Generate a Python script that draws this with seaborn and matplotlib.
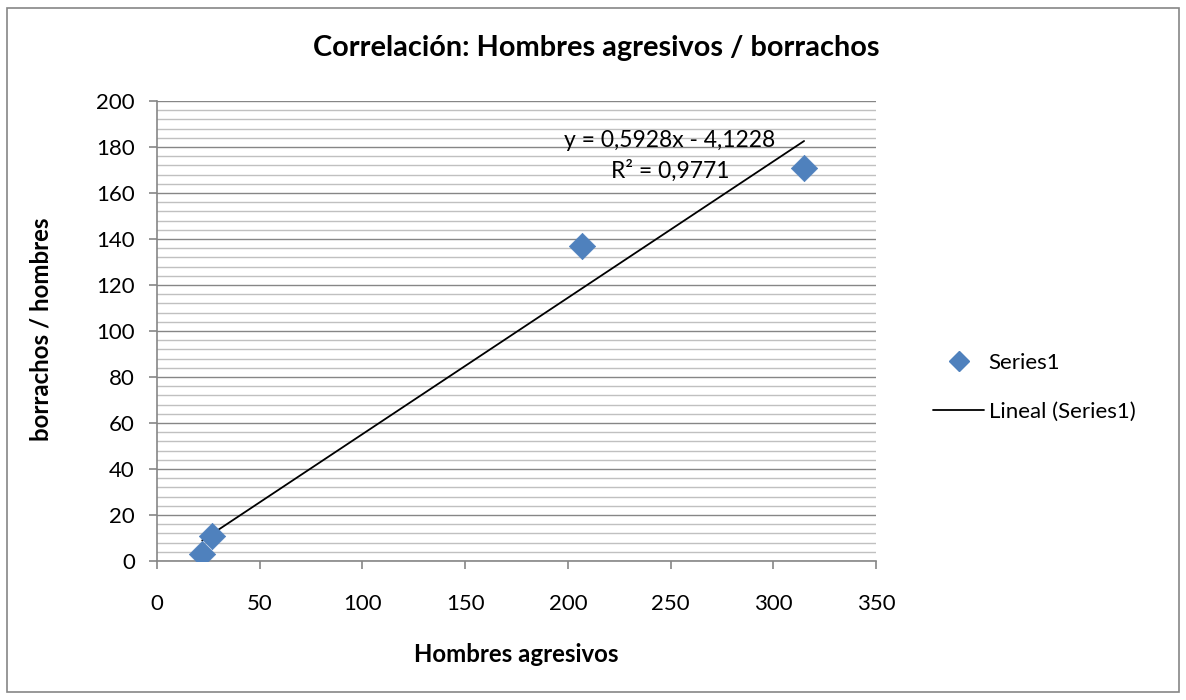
import numpy as np
import pandas as pd
import matplotlib
matplotlib.use("Agg")
import matplotlib.pyplot as plt
import seaborn as sns
from matplotlib.patches import Rectangle
from matplotlib.lines import Line2D
from matplotlib.ticker import MultipleLocator

# Data
hombres_agresivos = [22, 27, 207, 315]
borrachos = [3, 11, 137, 171]
series_name = "Series1"
trend_name = "Lineal (Series1)"
title = "Correlación: Hombres agresivos / borrachos"
xlabel = "Hombres agresivos"
ylabel = "borrachos / hombres"

sns.set_theme(style="white")
plt.rcParams['font.family'] = ['Lato', 'DejaVu Sans']
plt.rcParams['text.color'] = 'black'
plt.rcParams['axes.labelcolor'] = 'black'
plt.rcParams['xtick.labelcolor'] = 'black'
plt.rcParams['ytick.labelcolor'] = 'black'

df = pd.DataFrame({"x": hombres_agresivos, "y": borrachos})
slope, intercept = np.polyfit(df["x"], df["y"], 1)
pred = slope * df["x"] + intercept
r2 = 1 - ((df["y"] - pred) ** 2).sum() / ((df["y"] - df["y"].mean()) ** 2).sum()
xs = np.array([df["x"].min(), df["x"].max()])
trend = pd.DataFrame({"x": xs, "y": slope * xs + intercept})

fig = plt.figure(figsize=(11.86, 7.0), dpi=100)
fig.patches.append(Rectangle((0.006, 0.011), 0.988, 0.978, transform=fig.transFigure,
                             fill=False, edgecolor="#868686", linewidth=1.2))
ax = fig.add_axes([0.1324, 0.1986, 0.6062, 0.6571])

ax.set_xlim(0, 350)
ax.set_ylim(0, 200)
ax.yaxis.set_major_locator(MultipleLocator(20))
ax.yaxis.set_minor_locator(MultipleLocator(4))
ax.xaxis.set_major_locator(MultipleLocator(50))
ax.grid(which="major", axis="y", color="#868686", linewidth=1.0)
ax.grid(which="minor", axis="y", color="#c0c0c0", linewidth=1.0)
ax.grid(which="major", axis="x", visible=False)
ax.set_axisbelow(True)

sns.lineplot(data=trend, x="x", y="y", ax=ax, color="black", linewidth=1.3, zorder=3)
sns.scatterplot(data=df, x="x", y="y", ax=ax, marker="D", s=180, color="#4F81BD",
                edgecolor="#4F81BD", linewidth=0.5, zorder=4)

for side in ["top", "right"]:
    ax.spines[side].set_visible(False)
for side in ["left", "bottom"]:
    ax.spines[side].set_color("#868686")
    ax.spines[side].set_linewidth(1.2)

ax.tick_params(axis="both", which="major", direction="out", length=6, width=1.2,
               color="#868686", labelsize=16, labelcolor="black", bottom=True, left=True)
ax.tick_params(axis="x", which="major", pad=18)
ax.tick_params(axis="y", which="major", pad=10)
ax.tick_params(axis="y", which="minor", left=False)

fig.suptitle(title, x=0.5025, y=0.931, va="center", fontsize=20.8, fontweight="bold",
             color="black")
ax.set_xlabel(xlabel, fontsize=17.3, fontweight="bold", va="center", color="black")
ax.xaxis.set_label_coords(0.499, -0.204)
ax.set_ylabel(ylabel, fontsize=17.3, fontweight="bold", va="center", color="black")
ax.yaxis.set_label_coords(-0.162, 0.503)

eq = f"y = {slope:.4f}x - {abs(intercept):.4f}".replace(".", ",")
r2t = f"R² = {r2:.4f}".replace(".", ",")
ax.text(249.5, 183, eq, fontsize=16.5, ha="center", va="center", zorder=5, color="black")
ax.text(250, 169.6, r2t, fontsize=16.5, ha="center", va="center", zorder=5, color="black")

handles = [Line2D([0], [0], marker="D", color="#4F81BD", linestyle="none", markersize=10),
           Line2D([0], [0], color="black", linewidth=1.3)]
fig.legend(handles, [series_name, trend_name], loc="center left",
           bbox_to_anchor=(0.770, 0.447), frameon=False, fontsize=16,
           handlelength=2.3, handletextpad=0.2, labelspacing=1.3, labelcolor="black")

fig.savefig("out.png", dpi=100)
